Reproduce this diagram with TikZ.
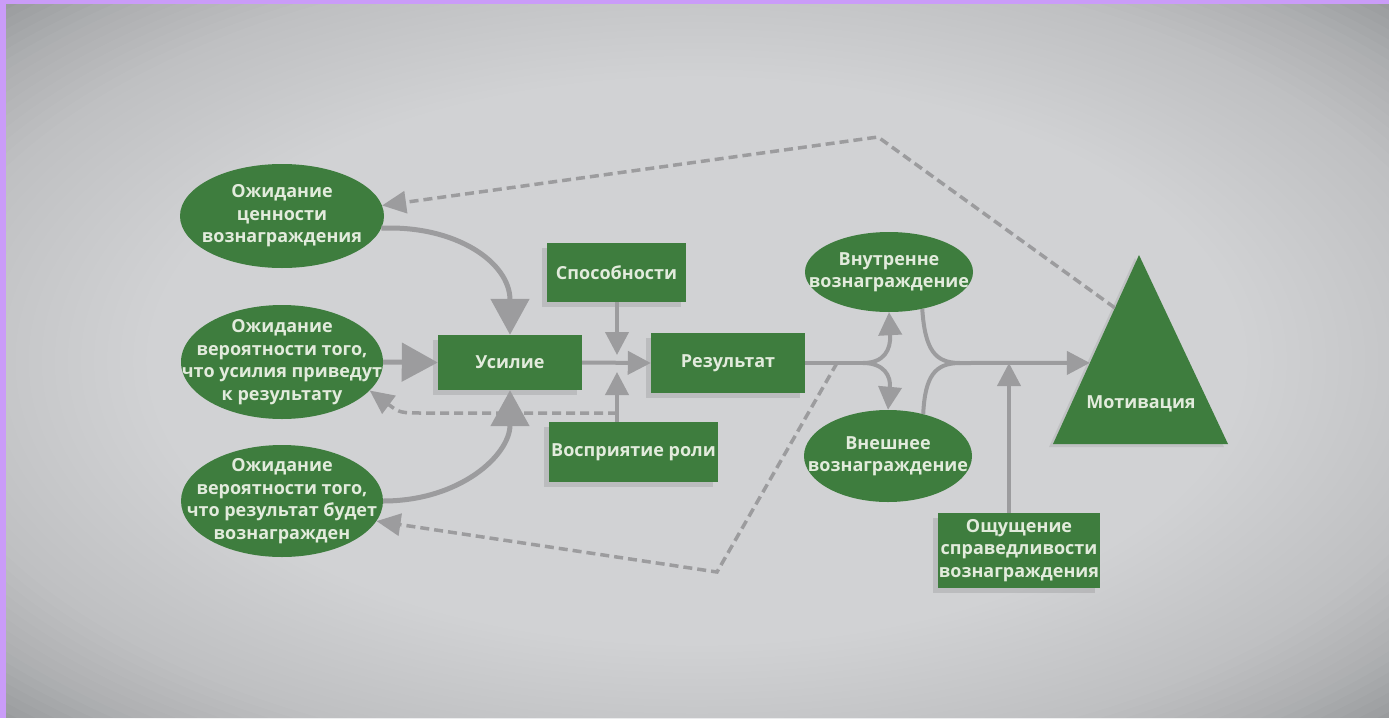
\documentclass[tikz,border=0pt]{standalone}
\usepackage{fontspec}
\setsansfont{Open Sans}
\usepackage{tikz}
\usetikzlibrary{shapes.geometric,arrows.meta,calc,shadows}
\definecolor{BoxGreen}{HTML}{3E7D3E}
\definecolor{BoxText}{HTML}{E2EBDC}
\definecolor{LinkGrey}{HTML}{9C9C9E}
\definecolor{FrameLilac}{HTML}{CA9CF8}
\definecolor{BackLight}{HTML}{E3E4E6}
\definecolor{BackDark}{HTML}{959799}

\begin{document}
\begin{tikzpicture}[x=1pt,y=-1pt,
    txt/.style={text=BoxText, align=center, font=\sffamily\bfseries\fontsize{18}{22.5}\selectfont},
    oval/.style={ellipse, fill=BoxGreen, txt, inner sep=-30pt},
    box/.style={rectangle, fill=BoxGreen, txt, inner sep=0pt,
        drop shadow={shadow xshift=-5pt, shadow yshift=-5pt, fill=black, opacity=.1}},
    link/.style={draw=LinkGrey, line width=4pt, -{Triangle[length=23pt,width=23pt]}},
    biglink/.style={link, line width=5pt, -{Triangle[length=36pt,width=38pt]}},
    backlink/.style={draw=LinkGrey, line width=3.5pt, dash pattern=on 9pt off 5pt,
        -{Triangle[length=24pt,width=22pt]}}]
    % backdrop: lilac frame, grey card lighter towards the middle
    \fill[FrameLilac] (0,0) rectangle (1389,718);
    \begin{scope}
        \clip (6,4) rectangle (1389,718);
        \fill[BackDark] (6,4) rectangle (1389,718);
        \coordinate (glow) at (697,361);
        \foreach \k in {1,...,60} {
            \pgfmathsetmacro{\sc}{1-(\k-1)*0.0133}
            \fill[BackLight, opacity=.055] (glow) ellipse [x radius=982*\sc pt, y radius=508*\sc pt];
        }
    \end{scope}
    \useasboundingbox (0,0) rectangle (1389,718);

    % expectations
    \node[oval, minimum width=204pt, minimum height=104pt] (e1) at (282,216) {Ожидание\\ценности\\вознаграждения};
    \node[oval, minimum width=202pt, minimum height=114pt] (e2) at (282,362) {Ожидание\\вероятности того,\\что усилия приведут\\к результату};
    \node[oval, minimum width=202pt, minimum height=112pt] (e3) at (282,501) {Ожидание\\вероятности того,\\что результат будет\\вознагражден};

    % effort and performance
    \node[box, minimum width=144pt, minimum height=55pt] (usilie) at (510,362.5) {Усилие};
    \node[box, minimum width=139pt, minimum height=59pt] (sposob) at (616.5,272.5) {Способности};
    \node[box, minimum width=154pt, minimum height=60pt] (rezult) at (728,363) {Результат};
    \node[box, minimum width=169pt, minimum height=60pt] (vospr) at (633.5,452) {Восприятие роли};

    % rewards
    \node[oval, minimum width=168pt, minimum height=80pt] (vnutr) at (889,272) {Внутренне\\вознаграждение};
    \node[oval, minimum width=168pt, minimum height=92pt] (vnesh) at (888,456) {Внешнее\\вознаграждение};
    \node[box, minimum width=162pt, minimum height=75pt] (oshush) at (1019,550.5) {Ощущение\\справедливости\\вознаграждения};

    % motivation
    \coordinate (mtop) at (1139,255);
    \coordinate (mleft) at (1053,444);
    \coordinate (mright) at (1228,444);
    \fill[BoxGreen, drop shadow={shadow xshift=-4pt, shadow yshift=-3pt, fill=black, opacity=.08}] (mtop) -- (mleft) -- (mright) -- cycle;
    \node[txt] (motiv) at (1141,404) {Мотивация};
    \coordinate (medge) at ($(mtop)!0.571!(mleft)$);
    \coordinate (mdash) at ($(mtop)!0.28!(mleft)$);

    \coordinate (cross) at (617,363);
    \coordinate (fb) at (617,413);
    \coordinate (split) at (863,363);
    \coordinate (merge) at (960,363);
    \coordinate (fair) at (1009,363);
    \coordinate (rbranch) at (837,363);
    \coordinate (rlow) at (717,572);
    \coordinate (peak) at (878,137);

    % solid links
    \draw[biglink] (e1.-7) .. controls (455,225) and (510,262) .. (usilie.north);
    \draw[biglink] (e2.east) -- (usilie.west);
    \draw[biglink] (e3.east) .. controls (460,501) and (510,455) .. (usilie.south);
    \draw[link] (usilie.east) -- (rezult.west);
    \draw[link, shorten >=8pt] (sposob.south -| cross) -- (cross);
    \draw[link, shorten >=9pt] (vospr.north -| cross) -- (cross);
    \draw[LinkGrey, line width=4pt] (rezult.east) -- (split);
    \draw[link] (split) .. controls (884,363) and (891,350) .. (vnutr.south);
    \draw[link] (split) .. controls (884,363) and (891,376) .. (vnesh.north);
    \draw[LinkGrey, line width=4pt] (vnutr.-48) .. controls (925,350) and (935,363) .. (merge);
    \draw[LinkGrey, line width=4pt] (vnesh.50) .. controls (925,376) and (935,363) .. (merge);
    \draw[link] (merge) -- (medge);
    \draw[link] (oshush.north -| fair) -- (fair);

    % feedback
    \draw[backlink] (fb) -- (425,413) .. controls (400,413) .. (e2.-18);
    \draw[backlink] (rbranch) -- (rlow) -- (e3.-12);
    \draw[backlink] (mdash) -- (peak) -- (e1.6);
\end{tikzpicture}
\end{document}
